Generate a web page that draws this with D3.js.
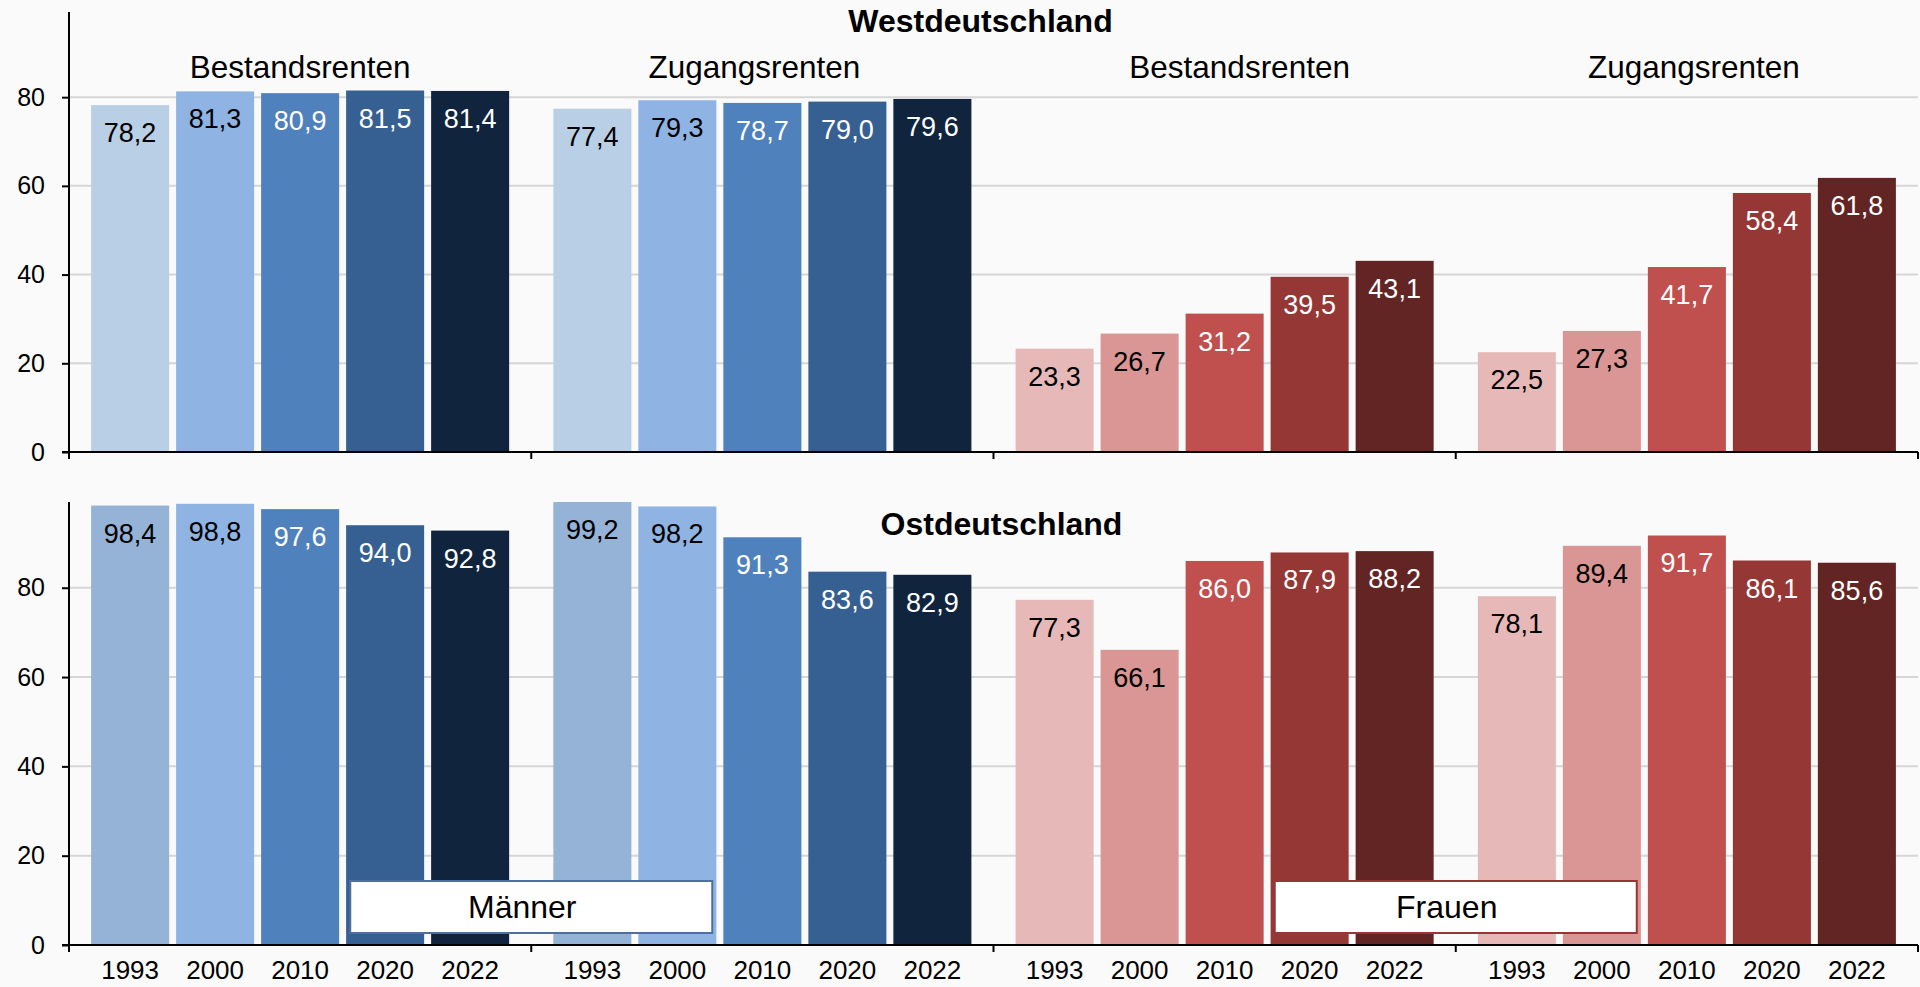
<!DOCTYPE html>
<html>
<head>
<meta charset="utf-8">
<script src="https://cdn.jsdelivr.net/npm/d3@7"></script>
<style>
	html, body { margin: 0; padding: 0; background: #fafafa; }
	svg { display: block; font-family: 'Liberation Sans', Arial, sans-serif; }
</style>
</head>
<body>
<svg id="chart" width="1920" height="987"></svg>
<script>
// categories
const groups = ['Bestandsrenten', 'Zugangsrenten', 'Bestandsrenten', 'Zugangsrenten'];
const years = ['1993', '2000', '2010', '2020', '2022'];
const yTicks = [0, 20, 40, 60, 80];

// values per group, years in order
const westValues = [
	[78.2, 81.3, 80.9, 81.5, 81.4],
	[77.4, 79.3, 78.7, 79.0, 79.6],
	[23.3, 26.7, 31.2, 39.5, 43.1],
	[22.5, 27.3, 41.7, 58.4, 61.8],
];
const eastValues = [
	[98.4, 98.8, 97.6, 94.0, 92.8],
	[99.2, 98.2, 91.3, 83.6, 82.9],
	[77.3, 66.1, 86.0, 87.9, 88.2],
	[78.1, 89.4, 91.7, 86.1, 85.6],
];

const blues = ['#b9cfe6', '#8fb4e3', '#4f81bd', '#376092', '#10243e'];
const bluesEast = ['#95b3d7', '#8fb4e3', '#4f81bd', '#376092', '#10243e'];
const reds = ['#e6b9b8', '#d99694', '#c0504d', '#953735', '#632523'];

const font = 'Liberation Sans, Arial, sans-serif';
const svg = d3.select('#chart');

const x0 = d3.scaleBand()
	.domain(d3.range(groups.length))
	.range([69, 1918]);
const x1 = d3.scaleBand()
	.domain(years)
	.range([0, x0.bandwidth()])
	.paddingInner(0.082)
	.paddingOuter(0.26);

const panels = [
	{ name: 'Westdeutschland', values: westValues, top: 12, bottom: 452, titleY: 32, titleShift: -13, colors: [blues, reds] },
	{ name: 'Ostdeutschland', values: eastValues, top: 502, bottom: 945, titleY: 535, titleShift: 8, colors: [bluesEast, reds] },
];

panels.forEach((p, pi) => {
	const y = d3.scaleLinear().domain([0, 99.2]).range([p.bottom, p.top]);
	const g = svg.append('g');

	// grid
	g.selectAll('.grid')
		.data(yTicks.filter(t => t > 0))
		.join('line')
		.attr('x1', x0.range()[0])
		.attr('x2', x0.range()[1])
		.attr('y1', d => y(d))
		.attr('y2', d => y(d))
		.attr('stroke', '#d6d6d6')
		.attr('stroke-width', 2);

	// bars
	p.values.forEach((vals, gi) => {
		const cols = p.colors[gi < 2 ? 0 : 1];
		const gg = g.append('g').attr('transform', `translate(${x0(gi)},0)`);
		gg.selectAll('rect')
			.data(vals)
			.join('rect')
			.attr('x', (d, i) => x1(years[i]))
			.attr('y', d => y(d))
			.attr('width', x1.bandwidth())
			.attr('height', d => y(0) - y(d))
			.attr('fill', (d, i) => cols[i]);
		gg.selectAll('text')
			.data(vals)
			.join('text')
			.attr('x', (d, i) => x1(years[i]) + x1.bandwidth() / 2)
			.attr('y', d => y(d) + 37)
			.attr('text-anchor', 'middle')
			.attr('font-size', 27)
			.attr('fill', (d, i) => i < 2 ? '#000' : '#fff')
			.text(d => d3.format('.1f')(d).replace('.', ','));
	});

	// y axis
	const ax = g.append('g')
		.attr('transform', `translate(${x0.range()[0]},0)`)
		.call(d3.axisLeft(y).tickValues(yTicks).tickSize(7).tickPadding(17));
	ax.select('.domain').remove();
	ax.selectAll('line').attr('stroke', '#000').attr('stroke-width', 2);
	ax.selectAll('text').attr('font-size', 25).attr('font-family', font).attr('fill', '#000');
	g.append('line')
		.attr('x1', x0.range()[0]).attr('x2', x0.range()[0])
		.attr('y1', p.top).attr('y2', p.bottom)
		.attr('stroke', '#000').attr('stroke-width', 2);

	// x axis with group separators
	g.append('line')
		.attr('x1', x0.range()[0] - 7).attr('x2', x0.range()[1])
		.attr('y1', p.bottom).attr('y2', p.bottom)
		.attr('stroke', '#000').attr('stroke-width', 2);
	const bounds = d3.range(groups.length).map(i => x0(i)).concat([x0.range()[1]]);
	g.selectAll('.sep')
		.data(bounds)
		.join('line')
		.attr('x1', d => d).attr('x2', d => d)
		.attr('y1', p.bottom).attr('y2', p.bottom + 7)
		.attr('stroke', '#000').attr('stroke-width', 2);

	// title
	g.append('text')
		.attr('x', (x0.range()[0] + x0.range()[1]) / 2 + p.titleShift)
		.attr('y', p.titleY)
		.attr('text-anchor', 'middle')
		.attr('font-size', 32)
		.attr('font-weight', 'bold')
		.text(p.name);
});

// group labels (top panel only)
const groupShift = [0, -8, 15, 7];
svg.selectAll('.glabel')
	.data(groups)
	.join('text')
	.attr('x', (d, i) => x0(i) + x0.bandwidth() / 2 + groupShift[i])
	.attr('y', 78)
	.attr('text-anchor', 'middle')
	.attr('font-size', 31.5)
	.text(d => d);

// year labels under the lower panel
groups.forEach((grp, gi) => {
	svg.append('g')
		.attr('transform', `translate(${x0(gi)},0)`)
		.selectAll('text')
		.data(years)
		.join('text')
		.attr('x', d => x1(d) + x1.bandwidth() / 2)
		.attr('y', 979)
		.attr('text-anchor', 'middle')
		.attr('font-size', 26)
		.text(d => d);
});

// sex boxes
const boxes = [
	{ label: 'Männer', at: 1, stroke: '#4f6f9f' },
	{ label: 'Frauen', at: 3, stroke: '#953735' },
];
boxes.forEach(b => {
	const cx = x0(b.at);
	svg.append('rect')
		.attr('x', cx - 181)
		.attr('y', 881)
		.attr('width', 362)
		.attr('height', 52)
		.attr('fill', '#fff')
		.attr('stroke', b.stroke)
		.attr('stroke-width', 2);
	svg.append('text')
		.attr('x', cx - 9)
		.attr('y', 918)
		.attr('text-anchor', 'middle')
		.attr('font-size', 32)
		.text(b.label);
});
</script>
</body>
</html>
